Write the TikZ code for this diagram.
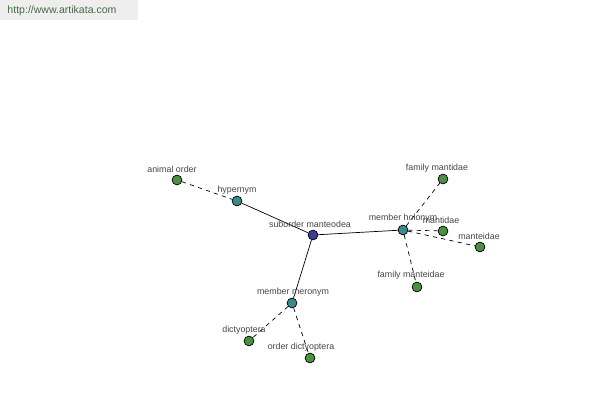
\documentclass[tikz,border=0pt]{standalone}
\usepackage{fontspec}
\setmainfont{Liberation Sans}
\usetikzlibrary{positioning}
\definecolor{hub}{HTML}{3A3C9A}
\definecolor{relnode}{HTML}{3A8A8A}
\definecolor{leafnode}{HTML}{4A9040}
\definecolor{lbltext}{HTML}{454545}
\definecolor{markgray}{HTML}{EEEEEE}
\definecolor{marktext}{HTML}{466A46}

\tikzset{
  vert/.style={circle,draw=black,line width=0.5pt,minimum size=7pt,inner sep=0pt},
  hubvert/.style={vert,fill=hub},
  relvert/.style={vert,fill=relnode},
  leafvert/.style={vert,fill=leafnode},
  lbl/.style={font=\fontsize{6.3}{7}\selectfont,text=lbltext,inner sep=1pt},
  strong/.style={line width=0.5pt},
  weak/.style={line width=0.5pt,dash pattern=on 3pt off 3pt}
}

\begin{document}
\begin{tikzpicture}[x=0.025cm,y=-0.025cm]
\useasboundingbox (0,0) rectangle (600,400);
% watermark
\fill[markgray] (0,0) rectangle (138,20);
\node[font=\fontsize{7.5}{8}\selectfont,text=marktext] (site) at (62,11) {http://www.artikata.com};

% vertices
\node[hubvert]  (sub)  at (313,235) {};
\node[relvert]  (hyp)  at (237,201) {};
\node[leafvert] (anim) at (177,180) {};
\node[relvert]  (hol)  at (403,230) {};
\node[leafvert] (fmant) at (443,179) {};
\node[leafvert] (mant) at (443,231) {};
\node[leafvert] (mtei) at (480,247) {};
\node[leafvert] (fmtei) at (417,287) {};
\node[relvert]  (mer)  at (292,303) {};
\node[leafvert] (dict) at (249,341) {};
\node[leafvert] (odict) at (310,358) {};

% edges
\draw[strong] (hyp) -- (sub);
\draw[strong] (sub) -- (hol);
\draw[strong] (sub) -- (mer);
\draw[weak] (anim) -- (hyp);
\draw[weak] (hol) -- (fmant);
\draw[weak] (hol) -- (mant);
\draw[weak] (hol) -- (mtei);
\draw[weak] (hol) -- (fmtei);
\draw[weak] (mer) -- (dict);
\draw[weak] (mer) -- (odict);

% labels
\node[lbl] (sub-l)   at (310,224) {suborder manteodea};
\node[lbl] (hyp-l)   at (237,190) {hypernym};
\node[lbl] (anim-l)  at (172,169) {animal order};
\node[lbl] (hol-l)   at (403,218) {member holonym};
\node[lbl] (fmant-l) at (437,168) {family mantidae};
\node[lbl] (mant-l)  at (441,220) {mantidae};
\node[lbl] (mtei-l)  at (479,236) {manteidae};
\node[lbl] (fmtei-l) at (411,275) {family manteidae};
\node[lbl] (mer-l)   at (293,292) {member meronym};
\node[lbl] (dict-l)  at (244,330) {dictyoptera};
\node[lbl] (odict-l) at (301,347) {order dictyoptera};
\end{tikzpicture}
\end{document}
